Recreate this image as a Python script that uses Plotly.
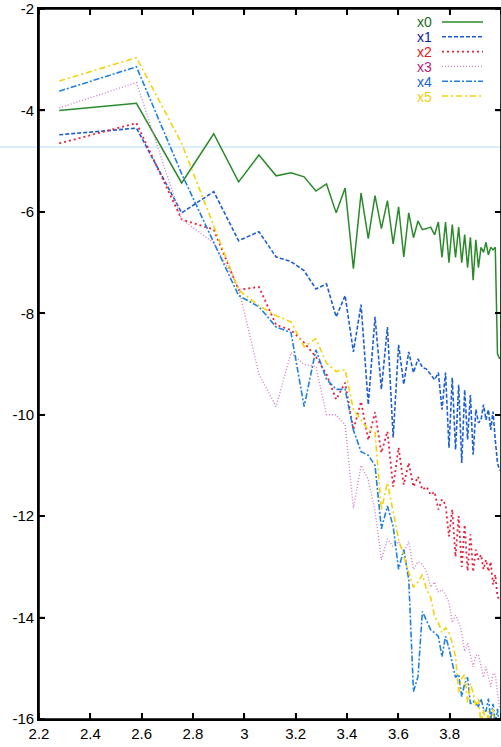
import plotly.graph_objects as go

# ---- data ----
x_vals = [2.2788, 2.5798, 2.7559, 2.8808, 2.9777, 3.0569, 3.1239, 3.1818, 3.2330, 3.2788,
          3.3201, 3.3579, 3.3927, 3.4249, 3.4548, 3.4829, 3.5092, 3.5340, 3.5575, 3.5798,
          3.6010, 3.6212, 3.6405, 3.6590, 3.6767, 3.6937, 3.7101, 3.7259, 3.7412, 3.7559,
          3.7701, 3.7839, 3.7973, 3.8102, 3.8228, 3.8351, 3.8470, 3.8585, 3.8698, 3.8808,
          3.8915, 3.9020, 3.9122, 3.9222, 3.9320, 3.9415, 3.9509, 3.9600, 3.9690, 3.9777,
          3.9863, 3.9948]

x0 = [-4.00, -3.86, -5.43, -4.46, -5.41, -4.88, -5.29, -5.23, -5.31, -5.59,
      -5.45, -6.02, -5.53, -7.12, -5.63, -6.53, -5.68, -6.33, -5.78, -6.63,
      -5.90, -6.89, -6.02, -6.51, -6.18, -6.35, -6.33, -6.30, -6.45, -6.20,
      -6.90, -6.20, -7.00, -6.25, -6.90, -6.30, -7.00, -6.45, -7.10, -6.50,
      -7.35, -6.55, -7.10, -6.70, -6.80, -6.60, -6.85, -6.70, -6.75, -6.70,
      -8.80, -8.90]

x1 = [-4.48, -4.35, -6.02, -5.60, -6.57, -6.39, -6.89, -6.98, -7.16, -7.52,
      -7.42, -8.07, -7.65, -8.76, -7.83, -9.80, -8.07, -9.50, -8.27, -10.45,
      -8.62, -9.40, -8.76, -9.17, -8.90, -9.07, -9.10, -9.20, -9.31, -9.17,
      -9.90, -9.17, -10.65, -9.27, -10.69, -9.41, -10.95, -9.51, -10.49, -9.61,
      -10.79, -9.90, -10.16, -10.10, -9.80, -10.10, -9.90, -10.30, -9.94, -10.50,
      -10.95, -11.10]

x2 = [-4.65, -4.25, -6.15, -6.35, -7.54, -7.48, -8.23, -8.33, -8.58, -8.86,
      -9.20, -9.70, -9.37, -10.30, -9.74, -10.50, -9.95, -10.75, -10.33, -11.42,
      -10.65, -11.38, -10.95, -11.42, -11.22, -11.48, -11.42, -11.58, -11.52, -11.87,
      -11.67, -11.77, -12.40, -11.87, -12.80, -12.00, -13.00, -12.17, -13.08, -12.36,
      -13.10, -12.66, -12.86, -12.76, -13.05, -12.86, -13.09, -12.90, -13.35, -13.15,
      -13.59, -13.65]

x3 = [-3.95, -3.45, -6.15, -6.61, -7.50, -9.20, -9.84, -8.78, -9.01, -9.05,
      -10.00, -10.00, -10.20, -11.85, -11.00, -11.28, -11.90, -12.86, -12.45, -12.60,
      -12.50, -12.70, -12.50, -13.05, -12.90, -12.95, -13.10, -13.40, -13.30, -13.50,
      -13.45, -13.55, -13.70, -14.10, -13.95, -14.08, -14.30, -14.67, -14.50, -14.75,
      -14.97, -14.75, -14.73, -14.95, -15.18, -14.97, -15.20, -15.36, -15.10, -15.12,
      -15.48, -15.80]

x4 = [-3.62, -3.14, -5.25, -6.60, -7.65, -7.87, -8.27, -8.38, -9.84, -8.72,
      -9.30, -9.50, -9.50, -10.30, -10.73, -10.80, -11.00, -12.25, -11.80, -12.20,
      -13.05, -12.66, -13.25, -15.46, -15.16, -13.88, -14.05, -14.24, -14.30, -14.37,
      -14.77, -14.37, -14.60, -14.90, -15.18, -15.12, -15.56, -15.30, -15.18, -15.70,
      -15.65, -15.70, -15.75, -15.60, -15.80, -15.85, -15.60, -16.00, -15.70, -16.10,
      -15.80, -16.20]

x5 = [-3.42, -2.96, -4.65, -6.30, -7.54, -7.85, -8.05, -8.17, -8.66, -8.50,
      -8.98, -9.15, -9.11, -9.90, -10.10, -10.30, -10.35, -11.87, -11.34, -11.90,
      -12.46, -12.80, -13.10, -13.40, -13.30, -13.15, -13.45, -13.60, -13.98, -14.10,
      -14.30, -14.20, -14.30, -14.50, -14.77, -15.48, -15.20, -15.12, -15.67, -15.30,
      -15.48, -15.75, -15.60, -16.10, -15.80, -16.20, -15.85, -16.30, -15.80, -16.20,
      -16.40, -16.50]

series_names = ["x0", "x1", "x2", "x3", "x4", "x5"]
x_tick_vals = [2.2, 2.4, 2.6, 2.8, 3.0, 3.2, 3.4, 3.6, 3.8, 4.0]
x_tick_text = ["2.2", "2.4", "2.6", "2.8", "3", "3.2", "3.4", "3.6", "3.8", "4"]
y_tick_vals = [-2, -4, -6, -8, -10, -12, -14, -16]
y_tick_text = ["-2", "-4", "-6", "-8", "-10", "-12", "-14", "-16"]

# ---- styles ----
line_colors = ["#2a8a2a", "#1c5fd4", "#e8203c", "#d47ec6", "#1f80e0", "#f5d20a"]
text_colors = ["#1d6b1d", "#10239e", "#e8141e", "#b81e78", "#1565d0", "#efcf10"]
dashes = ["solid", "4px,2px", "2px,3px", "1px,2px", "6px,2px,2px,2px", "6px,3px,2px,3px"]
widths = [1.5, 1.6, 1.8, 1.4, 1.6, 1.6]

W, H = 501, 747
ML, MR, MT, MB = 39, 0, 9, 28
PW, PH = W - ML - MR, H - MT - MB
TICK_PX = 6

fig = go.Figure()
all_series = [x0, x1, x2, x3, x4, x5]
for name, ys, c, d, w in zip(series_names, all_series, line_colors, dashes, widths):
    fig.add_trace(go.Scatter(x=x_vals, y=ys, mode="lines", name=name,
                             line=dict(color=c, dash=d, width=w), showlegend=False))

def px_to_paper_x(px):
    return (px - ML) / PW

def px_to_paper_y(py):
    return 1 - (py - MT) / PH

shapes = []
annotations = []
# faint scan line across the page
shapes.append(dict(type="line", xref="paper", yref="paper",
                   x0=px_to_paper_x(0), x1=px_to_paper_x(W), y0=px_to_paper_y(147), y1=px_to_paper_y(147),
                   line=dict(color="rgba(150,210,235,0.7)", width=1), layer="below"))
# plot frame
shapes.append(dict(type="rect", xref="paper", yref="paper", x0=0, x1=1, y0=0, y1=1,
                   line=dict(color="black", width=1.6), layer="above"))
# inward ticks on all four sides
tx = TICK_PX / PW
ty = TICK_PX / PH
for v in x_tick_vals:
    shapes.append(dict(type="line", xref="x", yref="paper", x0=v, x1=v, y0=0, y1=ty,
                       line=dict(color="black", width=1.5), layer="above"))
    shapes.append(dict(type="line", xref="x", yref="paper", x0=v, x1=v, y0=1, y1=1 - ty,
                       line=dict(color="black", width=1.5), layer="above"))
for v in y_tick_vals:
    shapes.append(dict(type="line", xref="paper", yref="y", x0=0, x1=tx, y0=v, y1=v,
                       line=dict(color="black", width=1.5), layer="above"))
    shapes.append(dict(type="line", xref="paper", yref="y", x0=1, x1=1 - tx, y0=v, y1=v,
                       line=dict(color="black", width=1.5), layer="above"))

# manual legend (text left, sample right)
for i, name in enumerate(series_names):
    py = 22 + i * 14.8
    annotations.append(dict(xref="paper", yref="paper", x=px_to_paper_x(416), y=px_to_paper_y(py),
                            text=name, showarrow=False, xanchor="left", yanchor="middle",
                            height=13, valign="middle", borderpad=0,
                            font=dict(family="Liberation Sans, Arial", size=14, color=text_colors[i])))
    shapes.append(dict(type="line", xref="paper", yref="paper",
                       x0=px_to_paper_x(442), x1=px_to_paper_x(483),
                       y0=px_to_paper_y(py), y1=px_to_paper_y(py),
                       line=dict(color=line_colors[i], dash=dashes[i], width=widths[i])))

axis_common = dict(showline=True, linecolor="black", linewidth=1.6, mirror="ticks",
                   ticks="inside", ticklen=TICK_PX, tickwidth=1.5, tickcolor="black",
                   showgrid=False, zeroline=False, automargin=False,
                   tickfont=dict(family="Liberation Sans, Arial", size=15, color="black"))

fig.update_layout(
    width=W, height=H,
    margin=dict(l=ML, r=MR, t=MT, b=MB, pad=0),
    paper_bgcolor="white", plot_bgcolor="white",
    xaxis=dict(range=[2.2, 4.0], tickvals=x_tick_vals, ticktext=x_tick_text, **axis_common),
    yaxis=dict(range=[-16, -2], tickvals=y_tick_vals, ticktext=y_tick_text, **axis_common),
    shapes=shapes, annotations=annotations,
)

fig.write_html("out.html", config={"displayModeBar": False},
               post_script="document.body.style.margin='0px';document.body.style.overflow='hidden';")
